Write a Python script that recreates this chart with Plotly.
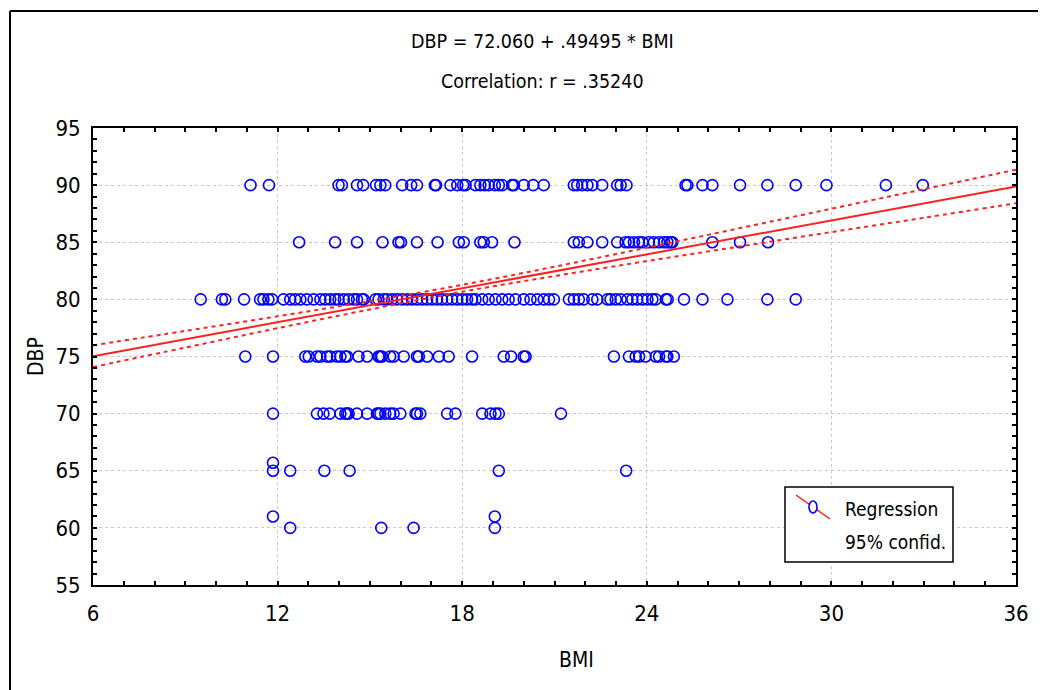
import plotly.graph_objects as go

# ---------------- data ----------------
bmi_90 = [11.12, 11.72, 13.98, 14.09, 14.58, 14.78, 15.20, 15.34, 15.50, 16.05, 16.34, 16.53,
          17.11, 17.15, 17.62, 17.84, 18.03, 18.11, 18.43, 18.59, 18.73, 18.86, 19.06, 19.19,
          19.30, 19.62, 19.68, 20.00, 20.31, 20.65, 21.63, 21.74, 21.90, 22.07, 22.23, 22.55,
          23.04, 23.15, 23.34, 25.26, 25.32, 25.81, 26.13, 27.03, 27.92, 28.84, 29.84, 31.77, 32.97]
bmi_85 = [12.70, 13.87, 14.58, 15.41, 15.93, 16.01, 16.53, 17.20, 17.89, 18.05, 18.59, 18.70,
          18.97, 19.70, 21.63, 21.79, 22.07, 22.55, 23.04, 23.31, 23.42, 23.58, 23.74, 23.86,
          24.07, 24.23, 24.40, 24.56, 24.67, 24.78, 24.83, 26.13, 27.03, 27.94]
bmi_80 = [9.50, 10.19, 10.30, 10.91, 11.43, 11.54, 11.70, 11.82, 12.19, 12.41, 12.57, 12.74,
          12.95, 13.17, 13.39, 13.55, 13.71, 13.87, 13.98, 14.15, 14.31, 14.47, 14.58, 14.74,
          14.80, 15.18, 15.28, 15.45, 15.56, 15.72, 15.88, 16.05, 16.21, 16.37, 16.53, 16.70,
          16.86, 17.02, 17.18, 17.34, 17.51, 17.67, 17.84, 18.00, 18.16, 18.32, 18.43, 18.65,
          18.86, 19.08, 19.30, 19.51, 19.73, 20.00, 20.22, 20.44, 20.65, 20.82, 20.98, 21.47,
          21.63, 21.79, 21.95, 22.23, 22.39, 22.72, 22.82, 22.99, 23.15, 23.37, 23.53, 23.69,
          23.86, 24.02, 24.18, 24.29, 24.62, 24.68, 25.21, 25.81, 26.62, 27.92, 28.84]
bmi_75 = [10.95, 11.85, 12.90, 13.01, 13.28, 13.39, 13.61, 13.71, 13.93, 14.04, 14.20, 14.26,
          14.63, 14.91, 15.28, 15.34, 15.39, 15.66, 15.77, 16.10, 16.53, 16.59, 16.86, 17.24,
          17.56, 18.32, 19.35, 19.59, 20.00, 20.06, 22.93, 23.42, 23.64, 23.75, 23.96, 24.29,
          24.40, 24.62, 24.67, 24.88]
bmi_70 = [11.85, 13.28, 13.49, 13.69, 14.04, 14.20, 14.26, 14.31, 14.58, 14.91, 15.23, 15.28,
          15.34, 15.50, 15.66, 15.77, 15.99, 16.48, 16.53, 16.64, 17.51, 17.78, 18.65, 18.92,
          19.08, 19.19, 21.21]
bmi_low = [11.85, 11.85, 12.41, 13.52, 14.34, 19.19, 23.33,
           11.85, 12.41, 15.37, 16.42, 19.06, 19.06]
dbp_low = [65.7, 65, 65, 65, 65, 65, 65,
           61, 60, 60, 60, 61, 60]

# regression line and 95% confidence band, read at these BMI values
band_bmi = [6, 9, 12, 15, 18, 21, 24, 27, 30, 33, 36]
fit_dbp = [75.03, 76.51, 78.00, 79.48, 80.97, 82.45, 83.94, 85.42, 86.91, 88.39, 89.88]
upper_dbp = [75.98, 77.24, 78.52, 79.84, 81.27, 82.86, 84.53, 86.22, 87.93, 89.64, 91.35]
lower_dbp = [74.08, 75.78, 77.48, 79.12, 80.67, 82.04, 83.35, 84.62, 85.89, 87.14, 88.41]

x_ticks = [6, 12, 18, 24, 30, 36]
y_ticks = [55, 60, 65, 70, 75, 80, 85, 90, 95]
title1 = "DBP = 72.060 + .49495 * BMI"
title2 = "Correlation: r = .35240"
x_title = "BMI"
y_title = "DBP"
legend_lines = ["Regression", "95% confid."]

# assemble points
bmi_all = bmi_90 + bmi_85 + bmi_80 + bmi_75 + bmi_70 + bmi_low
dbp_all = ([90] * len(bmi_90) + [85] * len(bmi_85) + [80] * len(bmi_80)
           + [75] * len(bmi_75) + [70] * len(bmi_70) + dbp_low)

# ---------------- layout geometry (page pixels) ----------------
W, H = 1046, 690
OFF = 8  # page body margin offset
L, R, T, B = 93, 1016, 128, 585
FONT = "DejaVu Sans Condensed, Liberation Sans Narrow, Arial Narrow, Liberation Sans, Arial, sans-serif"


def px(x):
    return (x - L) / (R - L)


def py(y):
    return (B - y) / (B - T)


fig = go.Figure()

fig.add_trace(go.Scatter(x=bmi_all, y=dbp_all, mode="markers",
                         marker=dict(symbol="circle-open", size=11, color="#0000ff",
                                     line=dict(width=1.6, color="#0000ff")),
                         showlegend=False, hoverinfo="x+y"))
fig.add_trace(go.Scatter(x=band_bmi, y=upper_dbp, mode="lines",
                         line=dict(color="#ff2020", width=2, dash="4px,4px", shape="spline"),
                         showlegend=False))
fig.add_trace(go.Scatter(x=band_bmi, y=lower_dbp, mode="lines",
                         line=dict(color="#ff2020", width=2, dash="4px,4px", shape="spline"),
                         showlegend=False))
fig.add_trace(go.Scatter(x=band_bmi, y=fit_dbp, mode="lines",
                         line=dict(color="#ff2020", width=2),
                         showlegend=False))

axis_common = dict(
    showline=True, linecolor="black", linewidth=2, mirror="allticks",
    ticks="inside", ticklen=4, tickwidth=1.5, tickcolor="black",
    showgrid=True, gridcolor="#c8c8c8", gridwidth=1, griddash="dot",
    zeroline=False,
    tickfont=dict(family=FONT, size=22, color="black"),
)

fig.update_xaxes(range=[6, 36], tickvals=x_ticks, ticktext=[str(v) for v in x_ticks],
                 minor=dict(dtick=1, ticks="inside", ticklen=4, tickcolor="black",
                            tickwidth=1.5, showgrid=False),
                 ticklabelstandoff=8,
                 **axis_common)
fig.update_yaxes(range=[55, 95], tickvals=y_ticks, ticktext=[str(v) for v in y_ticks],
                 minor=dict(dtick=1, ticks="inside", ticklen=4, tickcolor="black",
                            tickwidth=1.5, showgrid=False),
                 ticklabelstandoff=6,
                 **axis_common)


def txt(s, x, y, size, anchor="center", angle=0):
    return dict(text=s, x=px(x), y=py(y), xref="paper", yref="paper", showarrow=False,
                font=dict(family=FONT, size=size, color="black"), textangle=angle,
                xanchor=anchor, yanchor="middle")


annotations = [
    txt(title1, 542, 42, 19.5),
    txt(title2, 542, 82, 19.5),
    txt(x_title, 576, 660, 21),
    txt(y_title, 36, 357, 21, angle=-90),
    txt(legend_lines[0], 843, 509, 19, anchor="left"),
    txt(legend_lines[1], 843, 542, 19, anchor="left"),
]

shapes = [
    # outer frame (left and top edges)
    dict(type="line", xref="paper", yref="paper", x0=px(10), x1=px(10), y0=py(11), y1=py(H + 20),
         line=dict(color="black", width=2)),
    dict(type="line", xref="paper", yref="paper", x0=px(10), x1=px(W + 20), y0=py(11), y1=py(11),
         line=dict(color="black", width=2)),
    # legend box
    dict(type="rect", xref="paper", yref="paper", x0=px(785), x1=px(953), y0=py(487), y1=py(562),
         line=dict(color="black", width=1.5), fillcolor="white", layer="above"),
    # legend symbol: diagonal red line with a blue circle
    dict(type="line", xref="paper", yref="paper", x0=px(796), x1=px(830), y0=py(495), y1=py(519),
         line=dict(color="#ff2020", width=1.5), layer="above"),
    dict(type="circle", xref="paper", yref="paper", x0=px(809), x1=px(817), y0=py(501), y1=py(513),
         line=dict(color="#0000ff", width=1.6), fillcolor="white", layer="above"),
]

fig.update_layout(
    width=W, height=H,
    margin=dict(l=L - OFF, r=W - (R - L) - (L - OFF), t=T - OFF, b=H - (B - T) - (T - OFF),
                autoexpand=False),
    paper_bgcolor="white", plot_bgcolor="white",
    showlegend=False,
    annotations=annotations, shapes=shapes,
    font=dict(family=FONT, color="black"),
)

fig.write_html("out.html")
